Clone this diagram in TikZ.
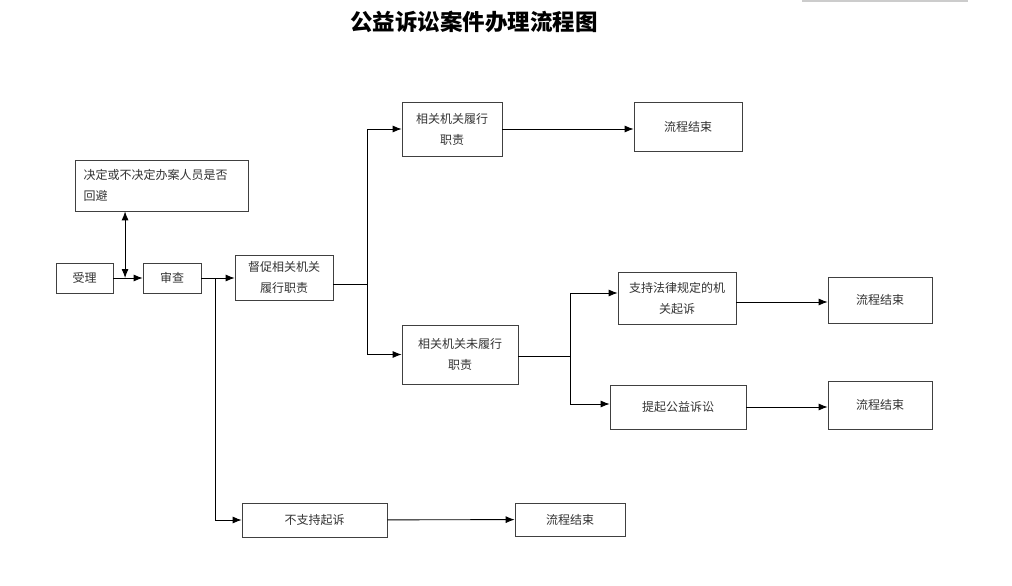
\documentclass[tikz,border=0pt]{standalone}
\usepackage{fontspec}
\setmainfont{Noto Sans CJK SC}
\usetikzlibrary{arrows.meta,calc}
\begin{document}
\begin{tikzpicture}[x=1pt,y=-1pt,
  box/.style={draw=black!75,line width=0.7pt,rectangle,inner sep=0pt,align=center,
    font=\fontsize{12}{21}\selectfont,text=black!80},
  arr/.style={draw=black,line width=0.9pt,-{Latex[length=9pt,width=7pt]}},
  dbl/.style={draw=black,line width=0.9pt,{Latex[length=9pt,width=7pt]}-{Latex[length=9pt,width=7pt]}},
  ln/.style={draw=black,line width=0.9pt}]
\useasboundingbox (0,0) rectangle (1012,586);
\fill[white] (0,0) rectangle (1012,586);
\draw[black!20,line width=1.5pt] (802,0.8) -- (968,0.8);
\node[font=\fontsize{22.5}{25}\selectfont\bfseries] (title) at (474,22) {公益诉讼案件办理流程图};

\node[box,minimum width=173pt,minimum height=51pt,align=left,text width=156pt] (avoid) at (161.5,185.5) {决定或不决定办案人员是否\\回避};
\node[box,minimum width=57pt,minimum height=30pt] (shouli) at (84.5,278) {受理};
\node[box,minimum width=58pt,minimum height=30pt] (shencha) at (172,278) {审查};
\node[box,minimum width=98pt,minimum height=45pt] (ducu) at (284,277.5) {督促相关机关\\履行职责};
\node[box,minimum width=100pt,minimum height=54pt] (lvxing) at (452,129) {相关机关履行\\职责};
\node[box,minimum width=108pt,minimum height=49pt] (end1) at (688,126.5) {流程结束};
\node[box,minimum width=116pt,minimum height=59pt] (weilv) at (460,354.5) {相关机关未履行\\职责};
\node[box,minimum width=118pt,minimum height=52pt] (zhichi) at (677,298) {支持法律规定的机\\关起诉};
\node[box,minimum width=104pt,minimum height=46pt] (end2) at (880,300) {流程结束};
\node[box,minimum width=136pt,minimum height=44pt] (tiqi) at (678,407) {提起公益诉讼};
\node[box,minimum width=104pt,minimum height=48pt] (end3) at (880,405) {流程结束};
\node[box,minimum width=145pt,minimum height=34pt] (buzhi) at (314.5,520) {不支持起诉};
\node[box,minimum width=110pt,minimum height=33pt] (end4) at (570,519.5) {流程结束};

% connectors
\draw[arr] (shouli) -- (shencha);
\coordinate (m) at ($(shouli.east)!0.4!(shencha.west)$);
\draw[dbl] (avoid.south -| m) -- (m);
\draw[arr] (shencha) -- (ducu.west |- shencha);
\coordinate (j0) at ($(shencha.east)+(14,0)$);
\draw[arr] (j0) |- (buzhi.west);
\draw[arr] (buzhi) -- (end4);
\coordinate (d1) at ($(ducu.east)+(0,7)$);
\coordinate (j1) at ($(d1)+(34,0)$);
\draw[ln] (d1) -- (j1);
\draw[arr] (j1) |- (lvxing.west);
\draw[arr] (j1) |- (weilv.west);
\draw[arr] (lvxing.east) -- (end1.west |- lvxing.east);
\coordinate (w1) at ($(weilv.east)+(0,2)$);
\coordinate (j2) at ($(w1)+(52,0)$);
\draw[ln] (w1) -- (j2);
\coordinate (z1) at ($(zhichi.west)+(0,-5)$);
\coordinate (t1) at ($(tiqi.west)+(0,-3)$);
\draw[arr] (j2) |- (z1);
\draw[arr] (j2) |- (t1);
\coordinate (z2) at ($(zhichi.east)+(0,4)$);
\draw[arr] (z2) -- (end2.west |- z2);
\draw[arr] (tiqi.east) -- (end3.west |- tiqi.east);
\end{tikzpicture}
\end{document}
